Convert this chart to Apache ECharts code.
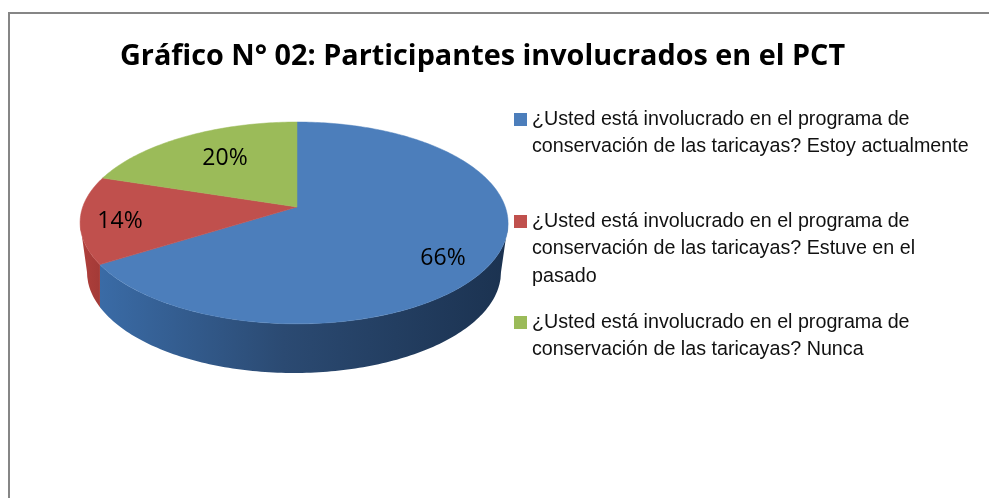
<!DOCTYPE html>
<html>
<head>
<meta charset="utf-8">
<style>
  html, body { margin: 0; padding: 0; background: #fff; }
  #chart { width: 989px; height: 498px; }
</style>
<script src="https://cdn.jsdelivr.net/npm/echarts@6/dist/echarts.min.js"></script>
</head>
<body>
<div id="chart"></div>
<script>
const titleText = 'Gráfico N° 02: Participantes involucrados en el PCT'
const categories = [
  '¿Usted está involucrado en el programa de\nconservación de las taricayas? Estoy actualmente',
  '¿Usted está involucrado en el programa de\nconservación de las taricayas? Estuve en el\npasado',
  '¿Usted está involucrado en el programa de\nconservación de las taricayas? Nunca'
]
const values = [66, 14, 20]

const topColors = ['#4c7ebb', '#c0504d', '#9bbb59']
const sideColors = [
  [{ offset: 0, color: '#3a6ba6' }, { offset: 0.45, color: '#2b4a72' }, { offset: 1, color: '#1b3250' }],
  [{ offset: 0, color: '#b0403c' }, { offset: 1, color: '#a33a37' }],
  [{ offset: 0, color: '#7f9a48' }, { offset: 1, color: '#7f9a48' }]
]
const legendLineHeight = 27.3
const legendFirstLines = [119.5, 221.5, 322.5]
const labelPositions = [[443, 258], [120, 221], [225, 158]]

// 3d pie geometry, perspective plane projected on the page
const pie = { cx: 297, cy: 207, a: 211.3, b: 98.4, k: 0.158, skew: 3 }
const base = { cx: 294, cy: 272, rx: 207, ry: 101 }
const total = values.reduce((s, v) => s + v, 0)
const visibleFrom = Math.PI / 2 + Math.asin(pie.k)
const visibleTo = Math.PI * 3 / 2 - Math.asin(pie.k)

const project = (angle) => {
  const u = Math.sin(angle)
  const v = Math.cos(angle)
  const d = 1 + pie.k * v
  return [pie.cx + pie.a * u / d - pie.skew * u * u, pie.cy - pie.b * v / d]
}

const arc = (from, to) => {
  const steps = Math.max(2, Math.ceil((to - from) * 60))
  const pts = []
  for (let i = 0; i <= steps; i++) {
    pts.push(project(from + (to - from) * i / steps))
  }
  return pts
}

// front edge of the pie's base right under a point of the top rim
const baseUnder = (pt) => {
  const x = Math.min(base.cx + base.rx, Math.max(base.cx - base.rx, pt[0]))
  const t = (x - base.cx) / base.rx
  return [x, base.cy + base.ry * Math.sqrt(1 - t * t)]
}

const renderSlice = (index) => (params, api) => {
  const before = values.slice(0, index).reduce((s, v) => s + v, 0)
  const start = before / total * Math.PI * 2
  const end = start + api.value(0) / total * Math.PI * 2
  const children = []

  const sideFrom = Math.max(start, visibleFrom)
  const sideTo = Math.min(end, visibleTo)
  if (sideTo > sideFrom) {
    const rim = arc(sideFrom, sideTo)
    children.push({
      type: 'polygon',
      shape: { points: rim.concat(rim.map(baseUnder).reverse()) },
      style: {
        fill: new echarts.graphic.LinearGradient(0, 0, 1, 0, sideColors[index]),
        stroke: 'none'
      }
    })
  }

  children.push({
    type: 'polygon',
    z2: 5,
    shape: { points: [[pie.cx, pie.cy]].concat(arc(start, end)) },
    style: { fill: topColors[index], stroke: topColors[index], lineWidth: 0.5 }
  })

  children.push({
    type: 'text',
    z2: 10,
    x: labelPositions[index][0],
    y: labelPositions[index][1],
    style: {
      text: Math.round(api.value(0) / total * 100) + '%',
      align: 'center',
      verticalAlign: 'middle',
      fill: '#000',
      font: '23px "Open Sans", sans-serif'
    }
  })

  return { type: 'group', children }
}

// blank lines in front of the name keep the swatch on the first text line
const legendBlankLines = (name) => name.split('\n').length - 1

const chart = echarts.init(document.getElementById('chart'), null, { renderer: 'canvas' })

chart.setOption({
  animation: false,
  backgroundColor: '#fff',
  title: {
    text: titleText,
    left: 120,
    top: 42,
    padding: 0,
    textStyle: { fontFamily: 'Open Sans', fontWeight: 'bold', fontSize: 28.8, color: '#000' }
  },
  legend: categories.map((name, i) => ({
    data: [name],
    left: 514,
    top: legendFirstLines[i] - legendLineHeight / 2 - legendBlankLines(name) * legendLineHeight,
    padding: 0,
    itemWidth: 13,
    itemHeight: 13,
    itemGap: 0,
    icon: 'rect',
    selectedMode: false,
    formatter: (n) => '\n'.repeat(legendBlankLines(n)) + n,
    textStyle: {
      fontFamily: 'Liberation Sans',
      fontSize: 19.7,
      lineHeight: legendLineHeight,
      color: '#111'
    }
  })),
  graphic: [
    { type: 'line', shape: { x1: 8, y1: 13, x2: 989, y2: 13 }, style: { stroke: '#868686', lineWidth: 2 } },
    { type: 'line', shape: { x1: 9, y1: 12, x2: 9, y2: 498 }, style: { stroke: '#868686', lineWidth: 2 } }
  ],
  series: categories.map((name, i) => ({
    name,
    type: 'custom',
    coordinateSystem: 'none',
    itemStyle: { color: topColors[i] },
    renderItem: renderSlice(i),
    data: [[values[i]]]
  }))
})
</script>
</body>
</html>
